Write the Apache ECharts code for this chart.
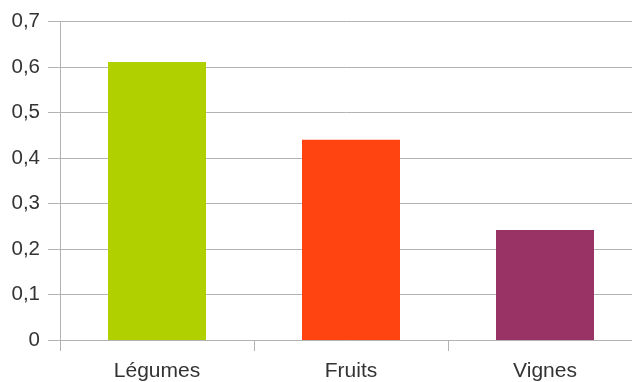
<!DOCTYPE html>
<html>
<head>
<meta charset="utf-8">
<script src="https://cdn.jsdelivr.net/npm/echarts@6/dist/echarts.min.js"></script>
<style>
  html, body { margin: 0; padding: 0; background: #fff; }
  #chart { width: 632px; height: 382px; }
</style>
</head>
<body>
<div id="chart"></div>
<script>
var categories = ["Légumes", "Fruits", "Vignes"];
var values = [0.611, 0.44, 0.242];
var barColors = ["#b0d000", "#ff4411", "#993366"];

var chart = echarts.init(document.getElementById("chart"));

chart.setOption({
  animation: false,
  grid: {
    left: 60,
    top: 21.5,
    width: 582,
    height: 318.5,
    containLabel: false,
    outerBoundsMode: "none"
  },
  xAxis: {
    type: "category",
    data: categories,
    axisLine: { lineStyle: { color: "#b3b3b3", width: 1 } },
    axisTick: { show: true, length: 11, lineStyle: { color: "#b3b3b3" } },
    axisLabel: {
      color: "#333",
      fontSize: 21,
      fontFamily: "Liberation Sans",
      margin: 21
    }
  },
  yAxis: {
    type: "value",
    min: 0,
    max: 0.7,
    interval: 0.1,
    axisLine: { show: true, lineStyle: { color: "#b3b3b3" } },
    axisTick: { show: true, length: 12, lineStyle: { color: "#b3b3b3" } },
    splitLine: { lineStyle: { color: "#b3b3b3" } },
    axisLabel: {
      color: "#333",
      fontSize: 20.5,
      fontFamily: "Liberation Sans",
      margin: 20,
      formatter: function (v) {
        return String(Math.round(v * 10) / 10).replace(".", ",");
      }
    }
  },
  series: [
    {
      type: "bar",
      barWidth: 98,
      data: values.map(function (v, i) {
        return { value: v, itemStyle: { color: barColors[i] } };
      })
    }
  ]
});
</script>
</body>
</html>
